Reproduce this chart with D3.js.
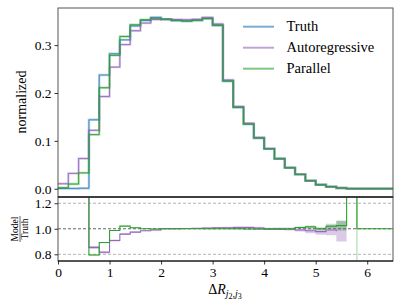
<!DOCTYPE html>
<html><head><meta charset="utf-8">
<script src="https://cdn.jsdelivr.net/npm/d3@7"></script>
<style>body{margin:0;background:#fff}svg{display:block}</style>
</head><body>
<svg id="c" width="407" height="305"></svg>
<script>
const binWidth = 0.2;
const binStarts = d3.range(33).map(i => +(i * binWidth).toFixed(1));
const truth = [0.0005,0.0005,0.001,0.144,0.2375,0.282,0.311,0.340,0.3515,0.358,0.354,0.3515,0.350,0.352,0.3555,0.341,0.225,0.170,0.135,0.106,0.0833,0.0625,0.0438,0.030,0.0167,0.0083,0.0042,0.0015,0,0,0,0,0];
const autoreg = [0.0104,0.032,0.063,0.122,0.1925,0.254,0.301,0.330,0.346,0.3535,0.354,0.3535,0.353,0.354,0.358,0.344,0.227,0.172,0.137,0.107,0.084,0.063,0.044,0.030,0.0167,0.0083,0.0042,0.0015,0,0,0,0,0];
const parallel = [0.002,0.0098,0.033,0.113,0.211,0.2785,0.318,0.3425,0.353,0.356,0.354,0.3515,0.3505,0.352,0.3555,0.342,0.225,0.170,0.135,0.106,0.0833,0.0625,0.0438,0.030,0.0167,0.0083,0.0042,0.0015,0.0003,0.0003,0.0003,0.0003,0.0003];
const ratioAuto = [null,null,2,0.854,0.816,0.908,0.958,0.974,0.985,0.99,1.0,1.0,1.002,1.003,1.005,1.008,1.008,1.01,1.01,1.005,1.0,1.0,0.998,0.99,0.985,0.978,0.99,0.98,null,null,null,null,null];
const bandAuto = [0,0,0,0.012,0.01,0.008,0.006,0.005,0.004,0.004,0.004,0.004,0.004,0.004,0.005,0.005,0.008,0.01,0.01,0.01,0.008,0.01,0.012,0.012,0.02,0.025,0.04,0.08,0,0,0,0,0];
const ratioPara = [null,null,2,0.795,0.892,0.987,1.021,1.008,1.0,0.998,1.0,1.0,1.0,1.0,1.0,1.0,1.0,1.0,0.998,0.998,0.997,0.997,0.998,1.01,1.015,1.0,1.02,1.025,2,1,1,1,1];
const bandPara = [0,0,0,0.006,0.005,0.004,0.003,0.003,0.002,0.002,0.002,0.002,0.002,0.002,0.003,0.003,0.004,0.005,0.005,0.005,0.005,0.006,0.006,0.008,0.01,0.012,0.02,0.04,0,0,0,0,0];
const xTicks = [0,1,2,3,4,5,6];
const yTopTicks = [0.0,0.1,0.2,0.3];
const yBotTicks = [0.8,1.0,1.2];
const seriesNames = ["Truth","Autoregressive","Parallel"];
const colors = ["#1f77b4","#9467bd","#2ca02c"];

const svg = d3.select("#c");
const L = 58, R = 393, T1 = 8, B1 = 197, T2 = 197, B2 = 261;
const x = d3.scaleLinear().domain([0,6.5]).range([L,R]);
const yTop = d3.scaleLinear().domain([-0.0173,0.3775]).range([B1,T1]);
const yBot = d3.scaleLinear().domain([0.7475,1.249]).range([B2,T2]);
const font = "'Liberation Serif', 'DejaVu Serif', serif";

const defs = svg.append("defs");
defs.append("clipPath").attr("id","cTop").append("rect").attr("x",L).attr("y",T1).attr("width",R-L).attr("height",B1-T1);
defs.append("clipPath").attr("id","cBot").append("rect").attr("x",L).attr("y",T2).attr("width",R-L).attr("height",B2-T2);

function stepPts(vals){
  const pts = vals.map((v,i)=>({x:binStarts[i], y:v}));
  pts.push({x:binStarts[binStarts.length-1]+binWidth, y:vals[vals.length-1]});
  return pts;
}

// top histograms
const gTop = svg.append("g").attr("clip-path","url(#cTop)");
const lineTop = d3.line().x(d=>x(d.x)).y(d=>yTop(d.y)).curve(d3.curveStepAfter);
[truth,autoreg,parallel].forEach((vals,k)=>{
  gTop.append("path").attr("d",lineTop(stepPts(vals))).attr("fill","none")
    .attr("stroke",colors[k]).attr("stroke-width",2.4).attr("stroke-opacity",0.35);
});
[truth,autoreg,parallel].forEach((vals,k)=>{
  gTop.append("path").attr("d",lineTop(stepPts(vals))).attr("fill","none")
    .attr("stroke",colors[k]).attr("stroke-width",1).attr("stroke-opacity",k===0?0.7:0.9);
});

// bottom ratio panel
const gBot = svg.append("g").attr("clip-path","url(#cBot)");
[[0.8,"#aaa"],[1.2,"#aaa"]].forEach(([v,c])=>{
  gBot.append("line").attr("x1",L).attr("x2",R).attr("y1",yBot(v)).attr("y2",yBot(v))
    .attr("stroke",c).attr("stroke-width",0.9).attr("stroke-dasharray","3,2");
});
function bandPts(r,b){
  const pts=[];
  r.forEach((v,i)=>{
    if(v!=null && b[i]>0){pts.push({x:binStarts[i],lo:v-b[i],hi:v+b[i]});pts.push({x:binStarts[i]+binWidth,lo:v-b[i],hi:v+b[i]});}
    else pts.push({x:binStarts[i],lo:null,hi:null});
  });
  return pts;
}
const areaLin = d3.area().x(d=>x(d.x)).y0(d=>yBot(d.lo)).y1(d=>yBot(d.hi)).defined(d=>d.lo!=null);
gBot.append("path").attr("d",areaLin(bandPts(ratioAuto,bandAuto))).attr("fill",colors[1]).attr("fill-opacity",0.35);
gBot.append("path").attr("d",areaLin(bandPts(ratioPara,bandPara))).attr("fill",colors[2]).attr("fill-opacity",0.3);
gBot.append("line").attr("x1",L).attr("x2",R).attr("y1",yBot(1)).attr("y2",yBot(1))
  .attr("stroke","#555").attr("stroke-width",0.9).attr("stroke-dasharray","3,2");
const lineBot = d3.line().defined(d=>d.y!=null).x(d=>x(d.x)).y(d=>yBot(d.y)).curve(d3.curveStepAfter);
function ratioPts(r){
  const pts = r.map((v,i)=>({x:binStarts[i], y:v}));
  pts.push({x:binStarts[binStarts.length-1]+binWidth, y:r[r.length-1]});
  return pts;
}
gBot.append("path").attr("d",lineBot(ratioPts(ratioAuto))).attr("fill","none").attr("stroke",colors[1]).attr("stroke-width",1.1);
gBot.append("path").attr("d",lineBot(ratioPts(ratioPara))).attr("fill","none").attr("stroke",colors[2]).attr("stroke-width",1.1);
gBot.append("line").attr("x1",x(5.8)).attr("x2",x(5.8)).attr("y1",T2).attr("y2",B2)
  .attr("stroke",colors[2]).attr("stroke-opacity",0.45).attr("stroke-width",1);

// frames
svg.append("rect").attr("x",L).attr("y",T1).attr("width",R-L).attr("height",B1-T1).attr("fill","none").attr("stroke","#555").attr("stroke-width",1);
svg.append("rect").attr("x",L).attr("y",T2).attr("width",R-L).attr("height",B2-T2).attr("fill","none").attr("stroke","#555").attr("stroke-width",1);
svg.append("line").attr("x1",L).attr("x2",R).attr("y1",T2).attr("y2",T2).attr("stroke","#000").attr("stroke-width",1.1);
svg.append("line").attr("x1",L).attr("x2",R).attr("y1",B2).attr("y2",B2).attr("stroke","#000").attr("stroke-width",1.1);

// axes
function styleAxis(g){
  g.select(".domain").remove();
  g.selectAll("line").attr("stroke","#000").attr("stroke-width",0.8);
  g.selectAll("text").attr("font-family",font).attr("font-size",13.5).attr("fill","#000");
}
svg.append("g").attr("transform",`translate(${L},0)`)
  .call(d3.axisLeft(yTop).tickValues(yTopTicks).tickFormat(d3.format(".1f")).tickSize(3.5).tickPadding(3))
  .call(styleAxis);
svg.append("g").attr("transform",`translate(${L},0)`)
  .call(d3.axisLeft(yBot).tickValues(yBotTicks).tickFormat(d3.format(".1f")).tickSize(3.5).tickPadding(3))
  .call(styleAxis);
svg.append("g").attr("transform",`translate(0,${B2})`)
  .call(d3.axisBottom(x).tickValues(xTicks).tickFormat(d3.format("d")).tickSize(3.5).tickPadding(3))
  .call(styleAxis);

// labels
svg.append("text").attr("transform",`translate(26,102) rotate(-90)`).attr("text-anchor","middle")
  .attr("font-family",font).attr("font-size",14).text("normalized");
const frac = svg.append("g").attr("transform",`translate(20,229) rotate(-90)`);
frac.append("text").attr("x",0).attr("y",-2.5).attr("text-anchor","middle").attr("font-family",font).attr("font-size",9.5).text("Model");
frac.append("line").attr("x1",-13).attr("x2",13).attr("y1",0).attr("y2",0).attr("stroke","#000").attr("stroke-width",0.6);
frac.append("text").attr("x",0).attr("y",8).attr("text-anchor","middle").attr("font-family",font).attr("font-size",9.5).text("Truth");
const xl = svg.append("text").attr("x",225).attr("y",294).attr("text-anchor","middle").attr("font-family",font).attr("font-size",14);
xl.append("tspan").text("Δ");
xl.append("tspan").attr("font-style","italic").text("R");
xl.append("tspan").attr("font-style","italic").attr("font-size",10).attr("dy",3).text("j");
xl.append("tspan").attr("font-size",8).attr("dy",1.5).text("2");
xl.append("tspan").attr("font-size",10).attr("dy",-1.5).attr("font-style","italic").text(",j");
xl.append("tspan").attr("font-size",8).attr("dy",1.5).text("3");

// legend
const leg = svg.append("g");
seriesNames.forEach((n,k)=>{
  const yy = 26.7 + k*21;
  leg.append("line").attr("x1",243).attr("x2",274).attr("y1",yy).attr("y2",yy)
    .attr("stroke",colors[k]).attr("stroke-width",2).attr("stroke-opacity",0.6);
  leg.append("text").attr("x",286.5).attr("y",yy+4.5).attr("font-family",font).attr("font-size",14.5).text(n);
});
</script>
</body></html>
